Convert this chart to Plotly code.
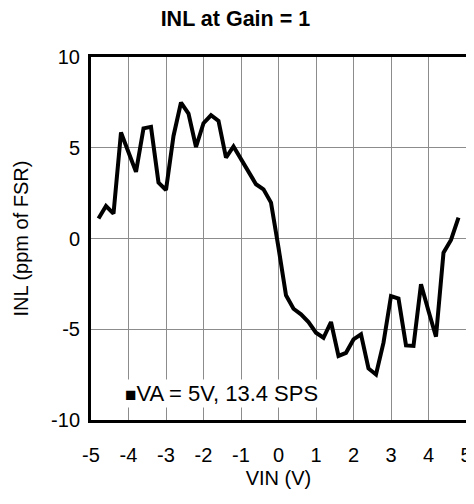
import plotly.graph_objects as go

vin = [-4.8, -4.6, -4.4, -4.2, -4.0, -3.8, -3.6, -3.4, -3.2, -3.0,
       -2.8, -2.6, -2.4, -2.2, -2.0, -1.8, -1.6, -1.4, -1.2, -1.0,
       -0.8, -0.6, -0.4, -0.2, 0.0, 0.2, 0.4, 0.6, 0.8, 1.0,
       1.2, 1.4, 1.6, 1.8, 2.0, 2.2, 2.4, 2.6, 2.8, 3.0,
       3.2, 3.4, 3.6, 3.8, 4.0, 4.2, 4.4, 4.6, 4.8]
inl = [1.10, 1.79, 1.37, 5.84, 4.75, 3.67, 6.07, 6.15, 3.08, 2.67,
       5.65, 7.49, 6.88, 5.04, 6.35, 6.79, 6.48, 4.46, 5.07, 4.37,
       3.63, 2.99, 2.71, 1.98, -0.50, -3.13, -3.87, -4.18, -4.60, -5.19,
       -5.47, -4.60, -6.47, -6.30, -5.56, -5.28, -7.16, -7.49, -5.74, -3.17,
       -3.31, -5.89, -5.92, -2.52, -3.99, -5.41, -0.78, -0.08, 1.15]

x_ticks = [-5, -4, -3, -2, -1, 0, 1, 2, 3, 4, 5]
y_ticks = [-10, -5, 0, 5, 10]
legend_label = "VA = 5V, 13.4 SPS"

FONT = "Liberation Sans, Arial, sans-serif"

# page body has an 8px margin; figure is sized to fit the 474x504 window
W, H = 466, 496

fig = go.Figure()
fig.add_trace(go.Scatter(x=vin, y=inl, mode="lines",
                         line=dict(color="black", width=4),
                         name=legend_label, showlegend=False))

fig.add_annotation(
    xref="paper", yref="paper", x=0.086, y=0.074,
    xanchor="left", yanchor="middle", showarrow=False,
    text='<span style="font-size:19px">■</span>' + legend_label,
    font=dict(family=FONT, size=22, color="black"),
    bgcolor="white", borderpad=1,
)

fig.update_layout(
    width=W, height=H,
    margin=dict(l=83, r=8, t=49, b=84),
    paper_bgcolor="white", plot_bgcolor="white",
    font=dict(family=FONT, size=20, color="black"),
    title=dict(text="<b>INL at Gain = 1</b>", x=0.488, xanchor="center",
               y=1 - 10 / H, yanchor="middle",
               font=dict(family=FONT, size=21.5, color="black")),
    showlegend=False,
)
fig.update_xaxes(range=[-5, 5], tickvals=x_ticks, ticktext=[str(v) for v in x_ticks],
                 showgrid=True, gridcolor="#8c8c8c", gridwidth=1, zeroline=False,
                 showline=True, linecolor="black", linewidth=3, mirror=True,
                 ticks="outside", ticklen=15, tickcolor="rgba(0,0,0,0)",
                 automargin=False,
                 title=dict(text="VIN (V)", standoff=6,
                            font=dict(family=FONT, size=20)),
                 tickfont=dict(family=FONT, size=20))
fig.update_yaxes(range=[-10, 10], tickvals=y_ticks, ticktext=[str(v) for v in y_ticks],
                 showgrid=True, gridcolor="#8c8c8c", gridwidth=1, zeroline=False,
                 showline=True, linecolor="black", linewidth=3, mirror=True,
                 ticks="outside", ticklen=4, tickcolor="rgba(0,0,0,0)",
                 automargin=False,
                 title=dict(text="INL (ppm of FSR)", standoff=18,
                            font=dict(family=FONT, size=20)),
                 tickfont=dict(family=FONT, size=20))

fig.write_html("out.html")
